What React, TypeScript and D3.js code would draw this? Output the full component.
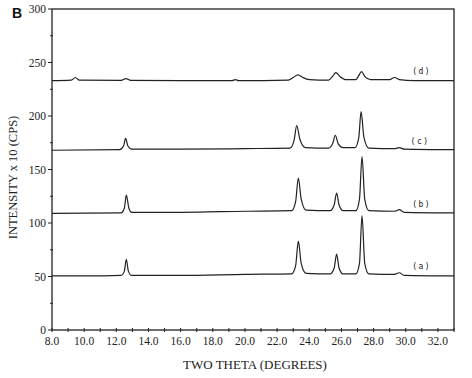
import React from "react";
import * as d3 from "d3";

const xTicks = [8, 10, 12, 14, 16, 18, 20, 22, 24, 26, 28, 30, 32];
const yTicks = [0, 50, 100, 150, 200, 250, 300];

const seriesA: [number, number][] = [
  [8.0, 50.5], [10, 50.5], [12.3, 51], [12.5, 55], [12.62, 66], [12.75, 55], [12.95, 51],
  [16, 51], [20, 52], [22.9, 52.5], [23.15, 60], [23.32, 83], [23.5, 62], [23.8, 53],
  [25.3, 52.5], [25.55, 58], [25.7, 71], [25.85, 58], [26.1, 52.5], [26.9, 52.5],
  [27.12, 62], [27.28, 107], [27.45, 62], [27.7, 52.5], [29.3, 52], [29.6, 53.5],
  [29.9, 51], [33, 50.5],
];
const seriesB: [number, number][] = [
  [8, 109], [12.3, 109.5], [12.5, 114], [12.62, 126], [12.78, 114], [12.95, 110],
  [16, 110], [20, 111], [22.9, 111.5], [23.15, 120], [23.32, 142], [23.5, 122], [23.8, 112],
  [25.3, 111.5], [25.55, 117], [25.7, 128], [25.85, 117], [26.1, 111.5], [26.9, 111.5],
  [27.12, 122], [27.28, 162], [27.45, 122], [27.7, 111.5], [29.3, 111], [29.6, 112.5],
  [29.9, 110], [33, 109.5],
];
const seriesC: [number, number][] = [
  [8, 168], [12.2, 168.5], [12.45, 172], [12.58, 179], [12.72, 172], [12.95, 169],
  [16, 169], [20, 169.5], [22.8, 170], [23.05, 177], [23.22, 191], [23.42, 178], [23.75, 170.5],
  [25.2, 170], [25.45, 174], [25.62, 182], [25.8, 174], [26.1, 170.5], [26.85, 170.5],
  [27.08, 180], [27.22, 204], [27.4, 180], [27.7, 170], [29.3, 169.5], [29.6, 170.5],
  [29.9, 169], [33, 168.5],
];
const seriesD: [number, number][] = [
  [8, 233], [9.2, 233.5], [9.45, 236], [9.7, 233.5], [12.3, 233.3], [12.6, 235], [12.9, 233.3],
  [16, 233], [19.2, 233], [19.4, 234], [19.6, 233], [22.7, 233.5], [23.0, 236], [23.3, 238.5],
  [23.6, 236], [24.0, 234], [25.2, 233.5], [25.45, 237], [25.65, 240.5], [25.9, 237],
  [26.3, 234], [26.9, 234], [27.05, 237], [27.25, 241.5], [27.45, 237], [27.8, 234],
  [29.0, 234], [29.3, 236], [29.6, 234], [30.5, 233], [33, 233],
];
const seriesLabels = ["(a)", "(b)", "(c)", "(d)"];
const labelPos: [number, number][] = [[30.4, 57], [30.4, 115], [30.3, 174], [30.4, 239]];

export default function App() {
  const W = 472, H = 378;
  const left = 52, right = 454, top = 9, bottom = 330;
  const x = d3.scaleLinear().domain([8, 33]).range([left, right]);
  const y = d3.scaleLinear().domain([0, 300]).range([bottom, top]);
  const line = d3.line<[number, number]>().x(d => x(d[0])).y(d => y(d[1])).curve(d3.curveMonotoneX);
  const all = [seriesA, seriesB, seriesC, seriesD];
  const minorX = d3.range(8, 34, 1);
  const minorY = d3.range(25, 300, 50);
  const serif = "'Liberation Serif', 'DejaVu Serif', serif";
  return (
    <svg width={W} height={H} style={{ position: "absolute", left: 0, top: 0, background: "#fff" }}>
      <rect x={left} y={top} width={right - left} height={bottom - top} fill="none" stroke="#222" strokeWidth={1.3} />
      {minorX.map(t => (
        <line key={"mx" + t} x1={x(t)} x2={x(t)} y1={bottom - 2} y2={bottom + 2} stroke="#222" strokeWidth={1} />
      ))}
      {xTicks.map(t => (
        <text key={"xt" + t} x={x(t)} y={bottom + 15} textAnchor="middle" fontFamily={serif} fontSize={11.5} fill="#222">
          {t.toFixed(1)}
        </text>
      ))}
      {yTicks.map(t => (
        <g key={"yt" + t}>
          <line x1={left - 4} x2={left} y1={y(t)} y2={y(t)} stroke="#222" strokeWidth={1} />
          <text x={left - 6} y={y(t) + 4} textAnchor="end" fontFamily={serif} fontSize={11.5} fill="#222">{t}</text>
        </g>
      ))}
      {minorY.map(t => (
        <line key={"my" + t} x1={left - 2} x2={left + 1} y1={y(t)} y2={y(t)} stroke="#222" strokeWidth={1} />
      ))}
      {all.map((s, i) => (
        <path key={"s" + i} d={line(s) || ""} fill="none" stroke="#222" strokeWidth={1.2} />
      ))}
      {seriesLabels.map((l, i) => (
        <text key={"l" + i} x={x(labelPos[i][0])} y={y(labelPos[i][1])} fontFamily="'DejaVu Sans Mono', monospace" fontSize={8} letterSpacing={1.5} fill="#222">
          {l}
        </text>
      ))}
      <text x={12} y={18} fontFamily="'Liberation Sans', Arial, sans-serif" fontWeight="bold" fontSize={14} fill="#111">B</text>
      <text transform={`translate(17, ${(top + bottom) / 2 + 8}) rotate(-90)`} textAnchor="middle" fontFamily={serif} fontSize={12.5} fill="#222">
        INTENSITY x 10 (CPS)
      </text>
      <text x={255} y={369} textAnchor="middle" fontFamily={serif} fontSize={13} fill="#222">
        TWO THETA (DEGREES)
      </text>
    </svg>
  );
}
